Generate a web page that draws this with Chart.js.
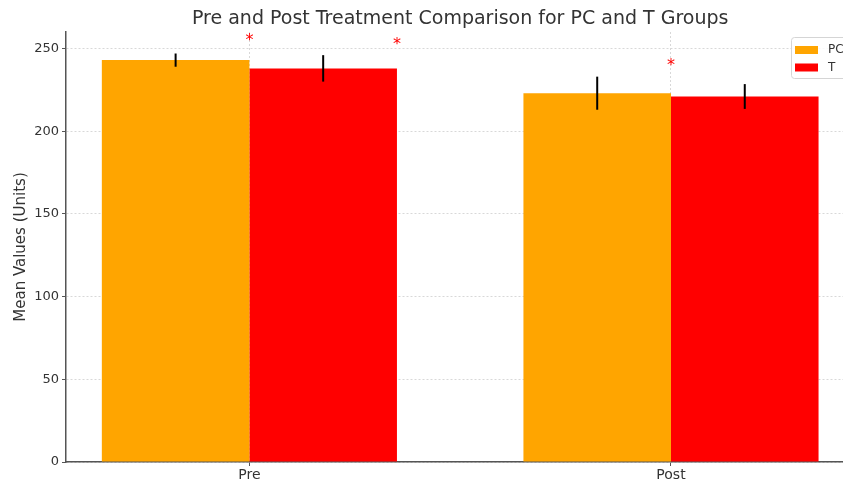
<!DOCTYPE html>
<html>
<head>
<meta charset="utf-8">
<script src="https://cdn.jsdelivr.net/npm/chart.js@4.4.1/dist/chart.umd.min.js"></script>
<style>
  body { margin: 0; background: #fff; }
  canvas { display: block; }
</style>
</head>
<body>
<canvas id="myChart" width="843" height="479"></canvas>
<script>
const categories = ["Pre", "Post"];
const seriesNames = ["PC", "T"];
const pcMeans = [243, 223];
const tMeans = [238, 221];
const pcErr = [4, 10];
const tErr = [8, 7.5];
// significance stars (x in category units, y in data units)
const starX = [0, 0.35, 1];
const starY = [257, 255, 242];
const chartTitle = "Pre and Post Treatment Comparison for PC and T Groups";
const yLabel = "Mean Values (Units)";

const FONT = "'DejaVu Sans', sans-serif";
const xLeft = -0.435, xRightAxes = 1.435, xRightCanvas = 1.408;

const toPoints = arr => arr.map((v, i) => ({ x: i, y: v }));

// error bars + stars, drawn through the scales
const extrasPlugin = {
  id: "extras",
  afterDatasetsDraw(chart) {
    const ctx = chart.ctx;
    const ys = chart.scales.y, xs = chart.scales.x;
    const errs = [pcErr, tErr];
    const means = [pcMeans, tMeans];
    ctx.save();
    ctx.strokeStyle = "#000";
    ctx.lineWidth = 2;
    chart.data.datasets.forEach((ds, di) => {
      chart.getDatasetMeta(di).data.forEach((bar, j) => {
        const v = means[di][j], e = errs[di][j];
        ctx.beginPath();
        ctx.moveTo(bar.x, ys.getPixelForValue(v + e));
        ctx.lineTo(bar.x, ys.getPixelForValue(v - e));
        ctx.stroke();
      });
    });
    ctx.fillStyle = "#ff0000";
    ctx.font = "16px " + FONT;
    ctx.textAlign = "center";
    ctx.textBaseline = "alphabetic";
    starX.forEach((sx, k) => {
      ctx.fillText("*", xs.getPixelForValue(sx), ys.getPixelForValue(starY[k]) + 8.5);
    });
    ctx.restore();
  },
  afterDraw(chart) {
    const ctx = chart.ctx;
    const area = chart.chartArea;
    const xs = chart.scales.x;
    ctx.save();
    // title, centred on the full axes
    ctx.fillStyle = "#333";
    ctx.font = "19px " + FONT;
    ctx.textAlign = "center";
    ctx.textBaseline = "middle";
    const cx = (area.left + xs.getPixelForValue(xRightAxes)) / 2;
    ctx.fillText(chartTitle, cx, 19);

    // legend box upper right
    const lx = area.right - 52, ly = area.top + 5;
    ctx.fillStyle = "rgba(255,255,255,0.85)";
    ctx.strokeStyle = "#d5d5d5";
    ctx.lineWidth = 1;
    ctx.beginPath();
    ctx.roundRect(lx + 0.5, ly + 0.5, 80, 41, 3);
    ctx.fill();
    ctx.stroke();
    ctx.font = "12px " + FONT;
    ctx.textAlign = "left";
    ctx.textBaseline = "middle";
    chart.data.datasets.forEach((ds, i) => {
      const py = ly + 9 + i * 17.5;
      ctx.fillStyle = ds.backgroundColor;
      ctx.fillRect(lx + 4, py, 23, 8);
      ctx.fillStyle = "#333";
      ctx.fillText(ds.label, lx + 37, py + 4);
    });
    ctx.restore();
  }
};

new Chart(document.getElementById("myChart"), {
  type: "bar",
  data: {
    datasets: [
      { label: seriesNames[0], data: toPoints(pcMeans), backgroundColor: "#FFA500" },
      { label: seriesNames[1], data: toPoints(tMeans), backgroundColor: "#FF0000" }
    ]
  },
  options: {
    responsive: false,
    animation: false,
    devicePixelRatio: 1,
    categoryPercentage: 0.7,
    barPercentage: 1.0,
    layout: { padding: { top: 32, left: 0, right: 0, bottom: 0 } },
    plugins: {
      legend: { display: false },
      title: { display: false },
      tooltip: { enabled: false }
    },
    scales: {
      x: {
        type: "linear",
        offset: false,
        min: xLeft,
        max: xRightCanvas,
        afterBuildTicks: s => { s.ticks = categories.map((c, i) => ({ value: i })); },
        afterFit: s => { s.height = 17; },
        ticks: {
          callback: v => categories[v],
          color: "#333",
          font: { family: FONT, size: 14 },
          padding: 1,
          maxRotation: 0
        },
        grid: { offset: false, color: "#d8d8d8", lineWidth: 1, tickLength: 4, tickColor: "#555", tickBorderDash: [] },
        border: { color: "#555", width: 1.5, dash: [2, 2] }
      },
      y: {
        min: 0,
        max: 260,
        afterFit: s => { s.width = 66; },
        ticks: {
          stepSize: 50,
          includeBounds: false,
          color: "#333",
          font: { family: FONT, size: 13 },
          padding: 3
        },
        title: {
          display: true,
          text: yLabel,
          color: "#333",
          font: { family: FONT, size: 15 },
          padding: { top: 12, bottom: 0 }
        },
        grid: { color: "#d8d8d8", lineWidth: 1, tickLength: 4, tickColor: "#555", tickBorderDash: [] },
        border: { color: "#555", width: 1.5, dash: [2, 2] }
      }
    }
  },
  plugins: [extrasPlugin]
});
</script>
</body>
</html>
